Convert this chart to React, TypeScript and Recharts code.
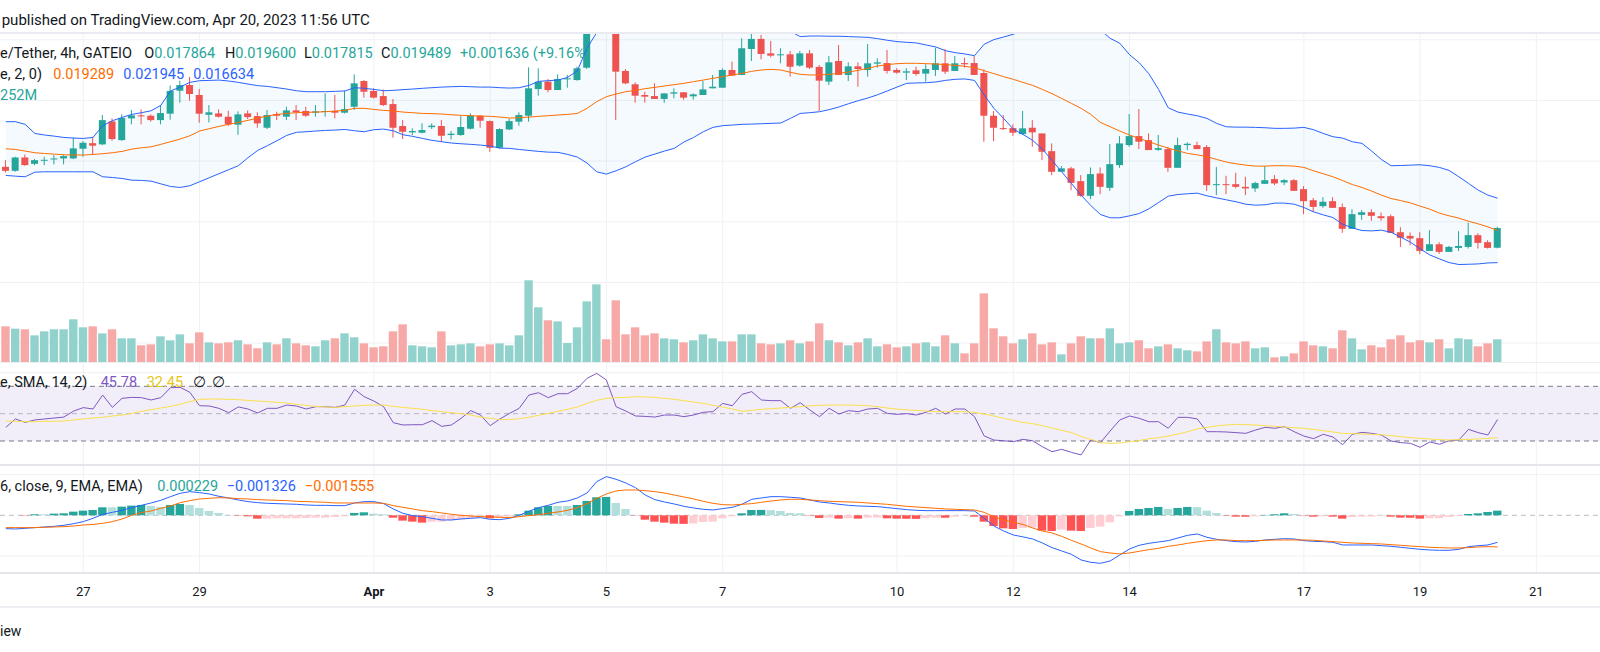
import React from "react";
import {
  ComposedChart,
  Bar,
  Line,
  Area,
  XAxis,
  YAxis,
  ReferenceLine,
  ReferenceArea,
} from "recharts";

// ---------------- DATA (4h candles, first visible candle = index -8, Mar 25 16:00) ----------------
const FIRST_INDEX = -8;

const open = [
  0.02453, 0.0242, 0.0253, 0.02478, 0.02503, 0.02514, 0.02522, 0.02522, 0.02602, 0.02648,
  0.02638, 0.02827, 0.02673, 0.02852, 0.02877, 0.02874, 0.02838, 0.02891, 0.0308, 0.03127,
  0.03045, 0.02882, 0.02893, 0.02866, 0.028, 0.02893, 0.02871, 0.02775, 0.02888, 0.02866,
  0.02918, 0.02913, 0.02899, 0.0291, 0.02913, 0.02899, 0.02948, 0.0316, 0.03078, 0.03036,
  0.0297, 0.02789, 0.02737, 0.02734, 0.0278, 0.02789, 0.02715, 0.02715, 0.02767, 0.02874,
  0.0283, 0.0261, 0.02761, 0.02825, 0.02874, 0.03094, 0.03155, 0.03086, 0.03177, 0.03168,
  0.0327, 0.0361, 0.0384, 0.036, 0.03243, 0.03133, 0.03045, 0.03036, 0.03012, 0.03056,
  0.03067, 0.03034, 0.03045, 0.031, 0.03105, 0.03251, 0.0321, 0.03424, 0.03507, 0.03388,
  0.03372, 0.0338, 0.03287, 0.03388, 0.03276, 0.03155, 0.03325, 0.0321, 0.03281, 0.03251,
  0.03303, 0.03308, 0.03251, 0.03229, 0.03248, 0.03221, 0.03251, 0.03306, 0.03243, 0.03308,
  0.03308, 0.03226, 0.02874, 0.02772, 0.02772, 0.02723, 0.02775, 0.02728, 0.02582, 0.02412,
  0.0244, 0.02335, 0.02214, 0.02398, 0.0228, 0.02467, 0.02632, 0.02706, 0.02673, 0.02593,
  0.02599, 0.02445, 0.02632, 0.02632, 0.02616, 0.02302, 0.0231, 0.0231, 0.02288, 0.02275,
  0.02313, 0.02352, 0.02324, 0.02343, 0.02269, 0.02178, 0.02129, 0.0217, 0.02121, 0.01942,
  0.02057, 0.02079, 0.02046, 0.02046, 0.01914, 0.01884, 0.01865, 0.0176, 0.01815, 0.01752,
  0.01785, 0.01793, 0.0189, 0.01832, 0.017864,
];

const high = [
  0.02508, 0.02536, 0.02555, 0.02517, 0.02536, 0.0255, 0.0255, 0.02695, 0.02665, 0.02701,
  0.0288, 0.02852, 0.02885, 0.02921, 0.02926, 0.02885, 0.02962, 0.03122, 0.03163, 0.03193,
  0.03094, 0.02962, 0.02926, 0.02915, 0.0291, 0.02918, 0.02902, 0.02921, 0.02907, 0.02948,
  0.02962, 0.02948, 0.02962, 0.03058, 0.03045, 0.0308, 0.03215, 0.03168, 0.031, 0.03091,
  0.03012, 0.02838, 0.0277, 0.02811, 0.02811, 0.02838, 0.02748, 0.02871, 0.02893, 0.0288,
  0.02835, 0.0277, 0.02852, 0.02902, 0.03273, 0.03265, 0.03177, 0.03215, 0.0321, 0.03278,
  0.0366, 0.0395, 0.0392, 0.0364, 0.03259, 0.03149, 0.03072, 0.03141, 0.03058, 0.031,
  0.03067, 0.03058, 0.0316, 0.0321, 0.03265, 0.0332, 0.03512, 0.0362, 0.0354, 0.0349,
  0.0343, 0.03408, 0.03408, 0.03416, 0.03292, 0.03366, 0.03457, 0.03314, 0.03314, 0.03465,
  0.03347, 0.03416, 0.03265, 0.03265, 0.03278, 0.03298, 0.03435, 0.03424, 0.03366, 0.03352,
  0.03366, 0.03256, 0.02913, 0.0288, 0.02803, 0.02913, 0.02838, 0.02728, 0.02646, 0.02459,
  0.02453, 0.02385, 0.02448, 0.02448, 0.0264, 0.02706, 0.02888, 0.02929, 0.02728, 0.02715,
  0.02618, 0.02693, 0.02654, 0.0266, 0.02632, 0.02453, 0.02379, 0.02404, 0.02371, 0.0233,
  0.02459, 0.02385, 0.02352, 0.02352, 0.02294, 0.02197, 0.02203, 0.02203, 0.02151, 0.02104,
  0.02096, 0.02104, 0.02077, 0.0206, 0.01956, 0.01912, 0.01914, 0.01931, 0.01832, 0.01801,
  0.01923, 0.01994, 0.01906, 0.01848, 0.0196,
];

const low = [
  0.02407, 0.02412, 0.02462, 0.02467, 0.02467, 0.02473, 0.02473, 0.02517, 0.02536, 0.02555,
  0.02632, 0.02668, 0.02668, 0.02803, 0.02803, 0.02825, 0.02803, 0.02841, 0.02981, 0.02998,
  0.02816, 0.02819, 0.0286, 0.02789, 0.02717, 0.02847, 0.02775, 0.02764, 0.02838, 0.02838,
  0.02838, 0.02866, 0.02866, 0.02866, 0.02852, 0.02893, 0.02921, 0.03023, 0.03017, 0.02954,
  0.02693, 0.02682, 0.02715, 0.02729, 0.02764, 0.0266, 0.02679, 0.02709, 0.02761, 0.02775,
  0.02577, 0.02605, 0.02756, 0.02792, 0.02825, 0.03039, 0.03067, 0.03086, 0.03105, 0.03163,
  0.0326, 0.0359, 0.0358, 0.02838, 0.03133, 0.02981, 0.02981, 0.03012, 0.02981, 0.03017,
  0.03006, 0.03006, 0.03045, 0.031, 0.03105, 0.03204, 0.0321, 0.03325, 0.03339, 0.03355,
  0.03306, 0.03196, 0.03278, 0.03259, 0.02913, 0.03127, 0.0321, 0.0316, 0.03113, 0.03196,
  0.0327, 0.03221, 0.03221, 0.03168, 0.03204, 0.03155, 0.03201, 0.03218, 0.03243, 0.0327,
  0.0321, 0.0266, 0.02665, 0.02756, 0.02706, 0.02715, 0.02618, 0.02508, 0.02385, 0.02412,
  0.02261, 0.02206, 0.02187, 0.02228, 0.02255, 0.02445, 0.02618, 0.02599, 0.02591, 0.02585,
  0.02412, 0.02445, 0.02591, 0.02599, 0.02255, 0.0222, 0.02228, 0.02275, 0.0222, 0.02247,
  0.02313, 0.02302, 0.02302, 0.02255, 0.02063, 0.02082, 0.02115, 0.02115, 0.01909, 0.01942,
  0.02016, 0.02008, 0.02008, 0.01909, 0.01793, 0.01807, 0.01733, 0.0176, 0.01736, 0.01752,
  0.0176, 0.0178, 0.0178, 0.0178, 0.017815,
];

const close = [
  0.0242, 0.0253, 0.02467, 0.02508, 0.02511, 0.02522, 0.02541, 0.02605, 0.02651, 0.02627,
  0.02838, 0.02682, 0.02855, 0.02877, 0.02871, 0.02838, 0.02896, 0.03078, 0.03127, 0.03053,
  0.02891, 0.02902, 0.02866, 0.02803, 0.02885, 0.02863, 0.02811, 0.0288, 0.02874, 0.02918,
  0.02902, 0.02874, 0.0291, 0.02913, 0.02899, 0.02929, 0.03141, 0.03072, 0.03023, 0.02962,
  0.02775, 0.02742, 0.02748, 0.02756, 0.02792, 0.02709, 0.02726, 0.02781, 0.02874, 0.02833,
  0.0261, 0.02764, 0.0283, 0.0288, 0.031, 0.03155, 0.03086, 0.03177, 0.03182, 0.03265,
  0.0361, 0.0384, 0.036, 0.03237, 0.03141, 0.03039, 0.03031, 0.03012, 0.03058, 0.03067,
  0.03023, 0.0305, 0.03091, 0.03113, 0.03251, 0.03204, 0.0343, 0.03507, 0.03383, 0.03369,
  0.0338, 0.03278, 0.03388, 0.0327, 0.03163, 0.03314, 0.0321, 0.03281, 0.03259, 0.03306,
  0.03314, 0.03243, 0.03229, 0.0324, 0.03218, 0.03259, 0.03306, 0.03237, 0.03306, 0.03298,
  0.0321, 0.02874, 0.02775, 0.02764, 0.02734, 0.0277, 0.02737, 0.02577, 0.02412, 0.0244,
  0.02321, 0.02214, 0.02393, 0.02288, 0.02475, 0.02646, 0.02706, 0.0266, 0.02591, 0.02607,
  0.02445, 0.02632, 0.02643, 0.02599, 0.02302, 0.0231, 0.02302, 0.02288, 0.02275, 0.02319,
  0.02343, 0.02316, 0.02343, 0.02255, 0.0217, 0.02123, 0.02165, 0.02115, 0.01942, 0.02063,
  0.02079, 0.02049, 0.0203, 0.01909, 0.01868, 0.01862, 0.0176, 0.01815, 0.01752, 0.01793,
  0.01801, 0.0189, 0.01826, 0.01785, 0.019489,
];

const volume = [
  396e6, 370e6, 363e6, 296e6, 340e6, 363e6, 363e6, 474e6, 385e6, 396e6,
  318e6, 363e6, 263e6, 263e6, 185e6, 196e6, 285e6, 241e6, 307e6, 207e6,
  329e6, 218e6, 207e6, 218e6, 241e6, 196e6, 152e6, 218e6, 196e6, 263e6,
  207e6, 185e6, 174e6, 241e6, 263e6, 318e6, 274e6, 207e6, 163e6, 174e6,
  340e6, 418e6, 185e6, 174e6, 163e6, 340e6, 185e6, 196e6, 207e6, 174e6,
  196e6, 207e6, 185e6, 296e6, 907e6, 607e6, 463e6, 451e6, 211e6, 385e6,
  673e6, 862e6, 252e6, 685e6, 307e6, 385e6, 296e6, 318e6, 263e6, 252e6,
  218e6, 241e6, 307e6, 263e6, 229e6, 229e6, 307e6, 307e6, 207e6, 196e6,
  207e6, 241e6, 207e6, 229e6, 429e6, 241e6, 218e6, 185e6, 218e6, 263e6,
  174e6, 196e6, 163e6, 174e6, 207e6, 218e6, 174e6, 296e6, 207e6, 96e6,
  207e6, 762e6, 374e6, 285e6, 207e6, 252e6, 318e6, 196e6, 218e6, 85e6,
  207e6, 285e6, 263e6, 263e6, 374e6, 207e6, 218e6, 241e6, 152e6, 174e6,
  196e6, 152e6, 130e6, 118e6, 229e6, 363e6, 218e6, 207e6, 229e6, 152e6,
  163e6, 52e6, 63e6, 96e6, 229e6, 185e6, 174e6, 152e6, 352e6, 263e6,
  141e6, 185e6, 163e6, 252e6, 296e6, 218e6, 241e6, 218e6, 252e6, 152e6,
  263e6, 252e6, 174e6, 207e6, 252e6,
];

const bbUpper = [
  0.02825, 0.02825, 0.02803, 0.02728, 0.02715, 0.02706, 0.02695, 0.0269, 0.02687, 0.02695,
  0.02792, 0.02833, 0.0286, 0.02885, 0.02899, 0.02915, 0.02959, 0.03078, 0.0311, 0.03149,
  0.03163, 0.03165, 0.03168, 0.0316, 0.03149, 0.03135, 0.03122, 0.03116, 0.03105, 0.03094,
  0.0308, 0.03072, 0.03072, 0.03072, 0.03075, 0.03078, 0.03105, 0.031, 0.03091, 0.0308,
  0.03083, 0.03089, 0.03094, 0.031, 0.03105, 0.0311, 0.03113, 0.03116, 0.03113, 0.0311,
  0.0311, 0.03105, 0.03102, 0.03105, 0.03124, 0.03157, 0.03163, 0.03168, 0.0319, 0.03245,
  0.0343, 0.0356, 0.0363, 0.0366, 0.0367, 0.0367, 0.0367, 0.0366, 0.0365, 0.0364,
  0.0363, 0.0362, 0.0362, 0.0363, 0.0364, 0.0365, 0.0367, 0.0369, 0.0367, 0.0364,
  0.0361, 0.0357, 0.03526, 0.03531, 0.03531, 0.03529, 0.03529, 0.03526, 0.03523, 0.0352,
  0.03509, 0.03496, 0.03485, 0.03479, 0.03474, 0.03457, 0.03441, 0.0341, 0.03394, 0.03383,
  0.03369, 0.03463, 0.03501, 0.03523, 0.03545, 0.0358, 0.0362, 0.0366, 0.037, 0.0372,
  0.0373, 0.0372, 0.0367, 0.0358, 0.03512, 0.03471, 0.03377, 0.03311, 0.0322, 0.03091,
  0.0294, 0.02904, 0.02888, 0.02874, 0.02852, 0.02811, 0.02783, 0.0278, 0.0278, 0.02778,
  0.02775, 0.0277, 0.0277, 0.02772, 0.02778, 0.02759, 0.02728, 0.02701, 0.0269, 0.0266,
  0.02646, 0.02583, 0.02514, 0.02462, 0.02464, 0.02467, 0.0247, 0.02462, 0.02448, 0.02423,
  0.02371, 0.02316, 0.02261, 0.0222, 0.021945,
];

const bbBasis = [
  0.02602, 0.02596, 0.02583, 0.02569, 0.02563, 0.02558, 0.02552, 0.0255, 0.0255, 0.02555,
  0.02561, 0.02569, 0.0258, 0.02599, 0.0261, 0.02618, 0.02638, 0.0266, 0.02682, 0.02709,
  0.02748, 0.02767, 0.02786, 0.02803, 0.02819, 0.02836, 0.02855, 0.02871, 0.02885, 0.02893,
  0.02899, 0.02902, 0.02904, 0.02907, 0.02913, 0.02918, 0.02935, 0.02935, 0.02926, 0.02918,
  0.02913, 0.02904, 0.02899, 0.02893, 0.02891, 0.02888, 0.02882, 0.02877, 0.02874, 0.02871,
  0.02869, 0.02863, 0.02855, 0.02858, 0.02863, 0.02869, 0.02874, 0.0288, 0.02885, 0.02893,
  0.02935, 0.0299, 0.03031, 0.03053, 0.03072, 0.03083, 0.03097, 0.03108, 0.03119, 0.0313,
  0.03141, 0.03155, 0.03168, 0.03182, 0.03196, 0.0321, 0.03223, 0.0324, 0.03251, 0.03256,
  0.03251, 0.03232, 0.03215, 0.0321, 0.0321, 0.03215, 0.03223, 0.03234, 0.03248, 0.03265,
  0.03284, 0.03295, 0.03303, 0.03306, 0.03306, 0.03303, 0.033, 0.03295, 0.03289, 0.03281,
  0.0327, 0.03245, 0.03221, 0.03196, 0.03174, 0.03149, 0.03124, 0.03091, 0.03056, 0.03017,
  0.02976, 0.02935, 0.02885, 0.02819, 0.02783, 0.02748, 0.02715, 0.02687, 0.0266, 0.02632,
  0.02607, 0.02585, 0.02563, 0.02552, 0.02536, 0.02514, 0.02492, 0.02478, 0.02467, 0.02459,
  0.02459, 0.02462, 0.02462, 0.02459, 0.02448, 0.0242, 0.02396, 0.02371, 0.0234, 0.02307,
  0.02283, 0.02253, 0.0222, 0.02192, 0.02175, 0.02156, 0.02129, 0.02104, 0.02071, 0.02049,
  0.0203, 0.02005, 0.01983, 0.01958, 0.019289,
];

const bbLower = [
  0.02382, 0.02376, 0.02371, 0.02409, 0.02412, 0.02412, 0.02412, 0.02412, 0.02412, 0.02412,
  0.02371, 0.02365, 0.02357, 0.02343, 0.02341, 0.02335, 0.02313, 0.02291, 0.02283, 0.02297,
  0.0233, 0.02363, 0.02396, 0.02429, 0.02462, 0.02528, 0.02588, 0.02627, 0.02668, 0.02712,
  0.02737, 0.02742, 0.02748, 0.02753, 0.02756, 0.02761, 0.0275, 0.02742, 0.02759, 0.02764,
  0.0275, 0.02717, 0.02704, 0.02687, 0.02671, 0.0266, 0.02649, 0.02643, 0.02638, 0.02632,
  0.02624, 0.02607, 0.02605, 0.02596, 0.02588, 0.0258, 0.02574, 0.02572, 0.02555, 0.02533,
  0.02484, 0.02412, 0.02393, 0.0242, 0.02453, 0.02495, 0.02533, 0.02558, 0.02583, 0.02605,
  0.02657, 0.02695, 0.02742, 0.02778, 0.02792, 0.02797, 0.02803, 0.02805, 0.02808, 0.02811,
  0.02814, 0.02852, 0.02893, 0.02899, 0.02907, 0.02924, 0.02946, 0.02973, 0.02998, 0.0302,
  0.03047, 0.03078, 0.0311, 0.03141, 0.03144, 0.03146, 0.03152, 0.03165, 0.03174, 0.03177,
  0.03165, 0.03045, 0.02935, 0.02852, 0.02764, 0.0272, 0.02671, 0.02599, 0.02506, 0.02412,
  0.02316, 0.0222, 0.02134, 0.0206, 0.02033, 0.02033, 0.02049, 0.02068, 0.02107, 0.02159,
  0.02211, 0.02225, 0.02231, 0.02236, 0.02214, 0.02197, 0.02181, 0.02165, 0.02145, 0.02137,
  0.0214, 0.02154, 0.02154, 0.02145, 0.02118, 0.02082, 0.02057, 0.02035, 0.0198, 0.0195,
  0.01928, 0.01925, 0.01931, 0.01914, 0.01873, 0.01832, 0.01777, 0.01727, 0.01694, 0.01664,
  0.01648, 0.0165, 0.01653, 0.01661, 0.016634,
];

const rsi = [
  40.0, 46.1, 43.6, 45.4, 46.1, 46.8, 47.5, 51.9, 54.4, 53.4,
  63.6, 54.6, 61.2, 61.9, 61.7, 60.0, 61.7, 69.0, 69.2, 65.6,
  55.8, 55.6, 53.9, 50.7, 54.9, 53.4, 50.5, 53.9, 53.9, 56.3,
  55.6, 53.4, 55.1, 55.1, 54.6, 56.3, 67.8, 62.4, 59.2, 55.1,
  43.4, 41.7, 41.9, 41.9, 44.9, 40.7, 41.7, 46.6, 52.2, 49.0,
  41.2, 46.1, 50.2, 53.9, 63.6, 65.3, 61.7, 64.6, 64.6, 68.5,
  75.8, 79.5, 74.6, 55.1, 51.9, 48.3, 48.0, 47.5, 49.0, 49.0,
  47.8, 49.0, 51.0, 51.45, 57.5, 55.8, 64.1, 66.1, 60.0, 59.5,
  59.5, 53.9, 58.0, 52.7, 47.8, 53.9, 49.7, 52.2, 51.45, 53.4,
  53.9, 50.2, 49.5, 50.0, 49.0, 51.0, 53.9, 49.7, 53.4, 53.4,
  47.8, 33.7, 30.7, 30.2, 29.5, 31.2, 30.2, 25.8, 22.2, 23.9,
  21.7, 19.8, 30.7, 28.8, 37.3, 45.4, 48.3, 46.6, 44.1, 44.1,
  39.3, 47.3, 47.3, 46.1, 36.8, 36.8, 36.6, 36.1, 35.6, 38.0,
  40.0, 39.3, 40.5, 36.8, 33.6, 31.7, 34.9, 32.9, 27.3, 34.9,
  36.3, 35.6, 34.4, 30.0, 28.8, 28.3, 25.4, 29.3, 27.6, 30.2,
  30.7, 38.5, 36.1, 34.4, 45.78,
];

const rsiMa = [
  44.6, 44.4, 44.1, 44.1, 44.4, 44.4, 44.6, 45.4, 46.1, 46.8,
  47.3, 48.3, 49.0, 50.2, 51.7, 52.9, 54.1, 55.3, 56.8, 58.8,
  60.5, 60.7, 60.7, 60.5, 60.2, 59.7, 59.2, 58.8, 58.3, 57.8,
  56.8, 56.1, 55.3, 54.9, 54.6, 55.1, 55.6, 56.1, 56.3, 56.3,
  55.3, 54.6, 53.9, 53.2, 52.2, 51.45, 50.7, 50.0, 49.0, 47.5,
  46.6, 45.8, 45.6, 46.3, 47.3, 48.8, 50.2, 51.7, 53.2, 54.9,
  57.5, 59.7, 61.2, 61.7, 61.9, 62.4, 62.2, 61.9, 61.2, 60.5,
  59.5, 58.5, 57.5, 56.1, 54.9, 53.4, 51.7, 52.4, 53.2, 53.6,
  54.1, 54.6, 55.1, 55.8, 56.1, 56.3, 56.3, 56.3, 56.1, 55.8,
  55.1, 54.1, 53.4, 52.7, 52.4, 51.9, 51.45, 51.45, 51.45, 51.45,
  50.9, 49.7, 48.3, 46.6, 45.1, 43.6, 42.7, 41.2, 39.5, 37.8,
  36.1, 33.4, 31.2, 28.8, 28.3, 28.5, 29.5, 30.2, 31.7, 32.4,
  33.6, 35.1, 36.8, 38.8, 40.0, 41.0, 41.7, 42.2, 41.9, 41.7,
  41.2, 40.7, 40.2, 39.7, 39.3, 38.5, 37.5, 36.6, 35.6, 35.4,
  35.1, 34.9, 34.6, 33.9, 33.2, 32.4, 31.9, 31.5, 31.0, 30.7,
  31.0, 31.2, 31.5, 31.9, 32.45,
];

const macd = [
  -0.000655, -0.000672, -0.000639, -0.000606, -0.000573, -0.000541, -0.000491, -0.00041, -0.000311, -0.000147,
  0.000049, 0.000147, 0.000246, 0.000377, 0.000491, 0.000606, 0.000737, 0.000917, 0.001081, 0.001163,
  0.001114, 0.001048, 0.000934, 0.000852, 0.000753, 0.000672, 0.000622, 0.00059, 0.000573, 0.000557,
  0.000541, 0.000508, 0.000491, 0.000491, 0.000475, 0.000475, 0.000606, 0.000672, 0.000672, 0.000573,
  0.000311, 0.000098, -0.000016, -0.000066, -0.000147, -0.000229, -0.000229, -0.00018, -0.000147, -0.000115,
  -0.000197, -0.000213, -0.000147, 0.0, 0.000197, 0.000377, 0.000491, 0.000639, 0.000704, 0.000852,
  0.001097, 0.001654, 0.0019, 0.001769, 0.001589, 0.00136, 0.000999, 0.00077, 0.000655, 0.000557,
  0.000442, 0.00036, 0.000295, 0.000262, 0.000328, 0.000393, 0.000541, 0.000786, 0.000852, 0.000917,
  0.000917, 0.000885, 0.000852, 0.000753, 0.000655, 0.000606, 0.000541, 0.000491, 0.000459, 0.000442,
  0.000426, 0.000377, 0.000328, 0.000278, 0.000246, 0.000229, 0.000229, 0.000229, 0.000229, 0.000229,
  0.000213, -0.000147, -0.000524, -0.00077, -0.000966, -0.00106, -0.001163, -0.00136, -0.001589, -0.001753,
  -0.001916, -0.002195, -0.00231, -0.002359, -0.002244, -0.001949, -0.001654, -0.001474, -0.001376, -0.00131,
  -0.001245, -0.001114, -0.000983, -0.000917, -0.001081, -0.001179, -0.001245, -0.001294, -0.00131, -0.001278,
  -0.001212, -0.001179, -0.001147, -0.001163, -0.001245, -0.001278, -0.001294, -0.001327, -0.001458, -0.001458,
  -0.001458, -0.001458, -0.001491, -0.001523, -0.001572, -0.001622, -0.001671, -0.001704, -0.00172, -0.00172,
  -0.001671, -0.00154, -0.001491, -0.001458, -0.001326,
];

const signal = [
  -0.000606, -0.000606, -0.000606, -0.000606, -0.00059, -0.000573, -0.000557, -0.000524, -0.000475, -0.00045,
  -0.000393, -0.000311, -0.00018, 0.0, 0.000131, 0.000213, 0.000344, 0.000459, 0.000622, 0.000721,
  0.000803, 0.000835, 0.000868, 0.000852, 0.000819, 0.000803, 0.00077, 0.000753, 0.000737, 0.000721,
  0.000688, 0.000672, 0.000655, 0.000639, 0.000606, 0.000606, 0.000606, 0.000606, 0.000606, 0.00059,
  0.000475, 0.000393, 0.000311, 0.000229, 0.00018, 0.000115, 0.000049, 0.0, -0.000033, -0.000066,
  -0.000082, -0.000098, -0.000115, -0.000066, -0.000016, 0.000033, 0.000098, 0.000164, 0.000246, 0.000377,
  0.000573, 0.000835, 0.001048, 0.001196, 0.001245, 0.001245, 0.001212, 0.001163, 0.001097, 0.000999,
  0.000901, 0.000803, 0.000688, 0.00059, 0.000524, 0.000508, 0.000541, 0.000573, 0.000639, 0.000704,
  0.000753, 0.000786, 0.000786, 0.000753, 0.000721, 0.000688, 0.000672, 0.000655, 0.000639, 0.000606,
  0.000573, 0.000541, 0.000491, 0.000442, 0.00041, 0.000377, 0.000344, 0.000311, 0.000295, 0.000278,
  0.000262, 0.000147, -0.000082, -0.000229, -0.000344, -0.00045, -0.000622, -0.00077, -0.000868, -0.001032,
  -0.001229, -0.001409, -0.001605, -0.001785, -0.001851, -0.0019, -0.001851, -0.001769, -0.001687, -0.001622,
  -0.001523, -0.001458, -0.001376, -0.00131, -0.001245, -0.001212, -0.001212, -0.001245, -0.001245, -0.001245,
  -0.001229, -0.001212, -0.001212, -0.001212, -0.001212, -0.001229, -0.001261, -0.001294, -0.001327, -0.00136,
  -0.001376, -0.001392, -0.001409, -0.001441, -0.001474, -0.001507, -0.00154, -0.001572, -0.001589, -0.001605,
  -0.001605, -0.001589, -0.001556, -0.00154, -0.001555,
];

const hist = [
  0.0, 0.0, -0.000016, 0.000049, 0.000049, 0.000082, 0.000098, 0.00018, 0.000229, 0.000262,
  0.000393, 0.000393, 0.000426, 0.000475, 0.000508, 0.000459, 0.00041, 0.000508, 0.000557, 0.000508,
  0.00036, 0.000213, 0.000115, 0.000016, -0.000016, -0.000049, -0.000164, -0.000164, -0.000147, -0.000147,
  -0.000147, -0.000131, -0.000115, -0.000115, -0.000082, -0.000049, 0.000115, 0.000147, 0.000082, 0.000049,
  -0.000115, -0.000262, -0.000311, -0.00036, -0.000311, -0.000311, -0.000246, -0.000197, -0.000131, -0.000115,
  -0.000147, -0.000115, -0.000066, 0.00005, 0.000229, 0.000393, 0.000459, 0.000459, 0.000459, 0.000508,
  0.000704, 0.000885, 0.000901, 0.000606, 0.000311, -0.00001, -0.000213, -0.000311, -0.00036, -0.00041,
  -0.00042, -0.0004, -0.000328, -0.000311, -0.000147, -0.000049, 0.000098, 0.000262, 0.000265, 0.000255,
  0.000213, 0.000115, 0.0001, -0.000016, -0.000131, -0.000115, -0.000164, -0.000147, -0.000164, -0.000115,
  -0.00011, -0.000147, -0.000164, -0.00017, -0.000175, -0.000147, -0.000115, -0.00012, -0.000066, -0.000016,
  -0.000066, -0.000311, -0.000524, -0.000639, -0.000672, -0.00062, -0.0006, -0.000754, -0.00077, -0.0007,
  -0.000754, -0.00077, -0.000623, -0.000557, -0.000344, -0.000049, 0.000213, 0.000311, 0.00036, 0.00041,
  0.000311, 0.00036, 0.00041, 0.0004, 0.000229, 0.000115, -0.000016, -0.000066, -0.00007, -0.000049,
  0.000016, 0.000049, 0.000098, 0.000066, -0.000016, -0.000066, -0.000049, -0.000066, -0.000164, -0.000082,
  -0.000066, -0.00006, -0.000033, -0.000066, -0.000115, -0.00012, -0.000164, -0.000147, -0.00014, -0.000082,
  -0.000033, 0.000066, 0.000098, 0.000164, 0.000229,
];

// time axis: candle index of each day label
const tickIdx = [0, 12, 30, 42, 54, 66, 84, 96, 108, 126, 138, 150];
const tickLabels = ["27", "29", "Apr", "3", "5", "7", "10", "12", "14", "17", "19", "21"];

const priceGrid = [0.01, 0.015, 0.02, 0.025, 0.03, 0.035];
const rsiGrid = [80, 40];
const rsiBandTop = 70;
const rsiMid = 50;
const rsiBandBottom = 30;
const macdGrid = [0.002, -0.002];

// ---------------- STYLE / LAYOUT ----------------
const W = 1600;
const X_DOMAIN: [number, number] = [-8.6, 156.57];
const PRICE_DOMAIN: [number, number] = [0.008448, 0.035557];
const VOL_DOMAIN: [number, number] = [0, 3.652e9];
const RSI_DOMAIN: [number, number] = [12.44, 87.78];
const MACD_DOMAIN: [number, number] = [-0.002835, 0.002472];

const UP = "#26a69a";
const DOWN = "#ef5350";
const UP_VOL = "#92d2cc";
const DOWN_VOL = "#f7a9a7";
const GRID = "#eff1f5";
const FONT = "Roboto, 'Noto Sans', sans-serif";
const M0 = { top: 0, right: 0, bottom: 0, left: 0 };
const LEG = 14.5;

const data = open.map((o, k) => {
  const h = hist[k];
  const prev = k > 0 ? hist[k - 1] : h;
  const histColor = h >= 0 ? (h > prev ? "#26a69a" : "#b2dfdb") : h < prev ? "#ff5252" : "#ffcdd2";
  return {
    i: k + FIRST_INDEX,
    open: o,
    high: high[k],
    low: low[k],
    close: close[k],
    volume: volume[k],
    bbUpper: bbUpper[k],
    bbBasis: bbBasis[k],
    bbLower: bbLower[k],
    rsi: rsi[k],
    rsiMa: rsiMa[k],
    macd: macd[k],
    signal: signal[k],
    hist: h,
    histColor,
  };
});

// ---------------- SHAPES ----------------
const Candle = (p: any) => {
  const { x, y, width, height, payload } = p;
  if (x == null || y == null || !payload) return null;
  const top = Math.min(y, y + height);
  const bottom = Math.max(y, y + height);
  const { open: o, close: c, high: hi, low: lo } = payload;
  const range = hi - lo;
  const yOf = (v: number) => (range === 0 ? top : top + ((hi - v) / range) * (bottom - top));
  const cx = x + width / 2;
  const up = c >= o;
  const color = up ? UP : DOWN;
  const bTop = yOf(Math.max(o, c));
  const bBot = yOf(Math.min(o, c));
  return (
    <g>
      <line x1={cx} x2={cx} y1={top} y2={bottom} stroke={color} strokeWidth={1} />
      <rect x={cx - 3.5} y={bTop} width={7} height={Math.max(1, bBot - bTop)} fill={color} />
    </g>
  );
};

const VolumeBar = (p: any) => {
  const { x, y, width, height, payload } = p;
  if (x == null || y == null || !height || !payload) return null;
  const top = Math.min(y, y + height);
  const cx = x + width / 2;
  const up = payload.close >= payload.open;
  return <rect x={cx - 4.2} y={top} width={8.4} height={Math.abs(height)} fill={up ? UP_VOL : DOWN_VOL} />;
};

const HistBar = (p: any) => {
  const { x, y, width, height, payload } = p;
  if (x == null || y == null || !height || !payload) return null;
  const top = Math.min(y, y + height);
  const cx = x + width / 2;
  return <rect x={cx - 4.2} y={top} width={8.4} height={Math.abs(height)} fill={payload.histColor} />;
};

const TimeTick = (p: any) => {
  const { x, y, payload } = p;
  const k = tickIdx.indexOf(payload.value);
  const label = k >= 0 ? tickLabels[k] : "";
  return (
    <text
      x={x}
      y={y + 15}
      textAnchor="middle"
      fontSize={13}
      fontFamily={FONT}
      fontWeight={label === "Apr" ? 700 : 400}
      fill="#131722"
    >
      {label}
    </text>
  );
};

const abs = (top: number, height: number): React.CSSProperties => ({
  position: "absolute",
  left: 0,
  top,
  width: W,
  height,
});

const txt = (left: number, centerY: number, color: string, size = LEG, weight = 400): React.CSSProperties => ({
  position: "absolute",
  left,
  top: centerY - 9,
  lineHeight: "18px",
  height: 18,
  fontSize: size,
  fontWeight: weight,
  color,
  fontFamily: FONT,
  whiteSpace: "nowrap",
});

const hLine = (top: number, height: number, color: string): React.CSSProperties => ({
  position: "absolute",
  left: 0,
  top,
  width: W,
  height,
  background: color,
});

export default function App() {
  return (
    <div
      style={{
        position: "absolute",
        left: 0,
        top: 0,
        width: W,
        height: 652,
        background: "#ffffff",
        overflow: "hidden",
        fontFamily: FONT,
      }}
    >
      {/* ---------- PRICE PANE: grid ---------- */}
      <div style={abs(33, 329)}>
        <ComposedChart width={W} height={329} data={data} margin={M0}>
          <XAxis dataKey="i" type="number" domain={X_DOMAIN} allowDataOverflow hide />
          <YAxis type="number" domain={PRICE_DOMAIN} allowDataOverflow hide />
          {tickIdx.map((t) => (
            <ReferenceLine key={"pv" + t} x={t} stroke={GRID} strokeWidth={1} />
          ))}
          {priceGrid.map((v) => (
            <ReferenceLine key={"ph" + v} y={v} stroke={GRID} strokeWidth={1} />
          ))}
          <Line dataKey="close" stroke="none" dot={false} isAnimationActive={false} />
        </ComposedChart>
      </div>
      {/* volume */}
      <div style={abs(33, 329)}>
        <ComposedChart width={W} height={329} data={data} margin={M0}>
          <XAxis dataKey="i" type="number" domain={X_DOMAIN} allowDataOverflow hide />
          <YAxis type="number" domain={VOL_DOMAIN} allowDataOverflow hide />
          <Bar dataKey="volume" barSize={9} shape={(p: any) => <VolumeBar {...p} />} isAnimationActive={false} />
        </ComposedChart>
      </div>
      {/* candles + bollinger */}
      <div style={abs(33, 329)}>
        <ComposedChart width={W} height={329} data={data} margin={M0}>
          <XAxis dataKey="i" type="number" domain={X_DOMAIN} allowDataOverflow hide />
          <YAxis type="number" domain={PRICE_DOMAIN} allowDataOverflow hide />
          <Area
            dataKey={(d: any) => [d.bbLower, d.bbUpper]}
            stroke="none"
            fill="#2196f3"
            fillOpacity={0.05}
            isAnimationActive={false}
          />
          <Bar
            dataKey={(d: any) => [d.low, d.high]}
            barSize={9}
            shape={(p: any) => <Candle {...p} />}
            isAnimationActive={false}
          />
          <Line dataKey="bbUpper" stroke="#2962ff" strokeWidth={1} dot={false} isAnimationActive={false} />
          <Line dataKey="bbLower" stroke="#2962ff" strokeWidth={1} dot={false} isAnimationActive={false} />
          <Line dataKey="bbBasis" stroke="#ff6d00" strokeWidth={1} dot={false} isAnimationActive={false} />
        </ComposedChart>
      </div>

      {/* ---------- RSI PANE ---------- */}
      <div style={abs(362, 103)}>
        <ComposedChart width={W} height={103} data={data} margin={M0}>
          <XAxis dataKey="i" type="number" domain={X_DOMAIN} allowDataOverflow hide />
          <YAxis type="number" domain={RSI_DOMAIN} allowDataOverflow hide />
          {tickIdx.map((t) => (
            <ReferenceLine key={"rv" + t} x={t} stroke={GRID} strokeWidth={1} />
          ))}
          {rsiGrid.map((v) => (
            <ReferenceLine key={"rh" + v} y={v} stroke={GRID} strokeWidth={1} />
          ))}
          <ReferenceArea y1={rsiBandBottom} y2={rsiBandTop} x1={X_DOMAIN[0]} x2={X_DOMAIN[1]} fill="#7e57c2" fillOpacity={0.1} stroke="none" />
          <ReferenceLine y={rsiBandTop} stroke="#787b86" strokeDasharray="5 4" strokeWidth={1} />
          <ReferenceLine y={rsiMid} stroke="#787b86" strokeOpacity={0.5} strokeDasharray="5 4" strokeWidth={1} />
          <ReferenceLine y={rsiBandBottom} stroke="#787b86" strokeDasharray="5 4" strokeWidth={1} />
          <Line dataKey="rsi" stroke="none" dot={false} isAnimationActive={false} />
        </ComposedChart>
      </div>
      <div style={abs(362, 103)}>
        <ComposedChart width={W} height={103} data={data} margin={M0}>
          <XAxis dataKey="i" type="number" domain={X_DOMAIN} allowDataOverflow hide />
          <YAxis type="number" domain={RSI_DOMAIN} allowDataOverflow hide />
          <Line dataKey="rsi" stroke="#7e57c2" strokeWidth={1} dot={false} isAnimationActive={false} />
          <Line dataKey="rsiMa" stroke="#fbe04b" strokeWidth={1} dot={false} isAnimationActive={false} />
        </ComposedChart>
      </div>

      {/* ---------- MACD PANE ---------- */}
      <div style={abs(465, 108)}>
        <ComposedChart width={W} height={108} data={data} margin={M0}>
          <XAxis dataKey="i" type="number" domain={X_DOMAIN} allowDataOverflow hide />
          <YAxis type="number" domain={MACD_DOMAIN} allowDataOverflow hide />
          {tickIdx.map((t) => (
            <ReferenceLine key={"mv" + t} x={t} stroke={GRID} strokeWidth={1} />
          ))}
          {macdGrid.map((v) => (
            <ReferenceLine key={"mh" + v} y={v} stroke={GRID} strokeWidth={1} />
          ))}
          <ReferenceLine y={0} stroke="#787b86" strokeOpacity={0.5} strokeDasharray="5 4" strokeWidth={1} />
          <Line dataKey="macd" stroke="none" dot={false} isAnimationActive={false} />
        </ComposedChart>
      </div>
      <div style={abs(465, 143)}>
        <ComposedChart width={W} height={143} data={data} margin={M0}>
          <XAxis
            dataKey="i"
            type="number"
            domain={X_DOMAIN}
            allowDataOverflow
            ticks={tickIdx}
            interval={0}
            height={35}
            axisLine={false}
            tickLine={false}
            tickSize={6}
            tickMargin={2}
            tick={(p: any) => <TimeTick {...p} />}
          />
          <YAxis type="number" domain={MACD_DOMAIN} allowDataOverflow hide />
          <Bar dataKey="hist" barSize={9} shape={(p: any) => <HistBar {...p} />} isAnimationActive={false} />
          <Line dataKey="macd" stroke="#2962ff" strokeWidth={1} dot={false} isAnimationActive={false} />
          <Line dataKey="signal" stroke="#ff6d00" strokeWidth={1} dot={false} isAnimationActive={false} />
        </ComposedChart>
      </div>

      {/* ---------- separators ---------- */}
      <div style={hLine(32, 2, "#e9ebf0")} />
      <div style={hLine(362, 1, "#eceef2")} />
      <div style={hLine(464, 2, "#e4e6eb")} />
      <div style={hLine(572, 2, "#e4e6eb")} />
      <div style={hLine(606, 2, "#eceef2")} />

      {/* ---------- texts ---------- */}
      <div style={txt(1.7, 20, "#131722", 15)}>published on TradingView.com, Apr 20, 2023 11:56 UTC</div>

      <div style={txt(0, 54.3, "#131722")}>e/Tether, 4h, GATEIO</div>
      <div style={txt(144.3, 54.3, "#131722")}>
        O<span style={{ color: UP }}>0.017864</span>
      </div>
      <div style={txt(225, 54.3, "#131722")}>
        H<span style={{ color: UP }}>0.019600</span>
      </div>
      <div style={txt(304, 54.3, "#131722")}>
        L<span style={{ color: UP }}>0.017815</span>
      </div>
      <div style={txt(381, 54.3, "#131722")}>
        C<span style={{ color: UP }}>0.019489</span>
      </div>
      <div style={txt(460, 54.3, UP)}>+0.001636 (+9.16%)</div>

      <div style={txt(0, 75, "#131722")}>e, 2, 0)</div>
      <div style={txt(53.3, 75, "#ff6d00")}>0.019289</div>
      <div style={txt(123.3, 75, "#2962ff")}>0.021945</div>
      <div style={txt(193.3, 75, "#2962ff")}>0.016634</div>

      <div style={txt(0, 95.7, UP)}>252M</div>

      <div style={txt(0, 383.3, "#131722")}>e, SMA, 14, 2)</div>
      <div style={txt(100.7, 383.3, "#7e57c2")}>45.78</div>
      <div style={txt(146.7, 383.3, "#e6c619")}>32.45</div>
      <div style={txt(192.7, 383.3, "#131722")}>∅</div>
      <div style={txt(212, 383.3, "#131722")}>∅</div>

      <div style={txt(0, 486.7, "#131722")}>6, close, 9, EMA, EMA)</div>
      <div style={txt(157.3, 486.7, UP)}>0.000229</div>
      <div style={txt(226.7, 486.7, "#2962ff")}>−0.001326</div>
      <div style={txt(305, 486.7, "#ff6d00")}>−0.001555</div>

      <div style={txt(0, 631, "#131722", 14)}>iew</div>
    </div>
  );
}
